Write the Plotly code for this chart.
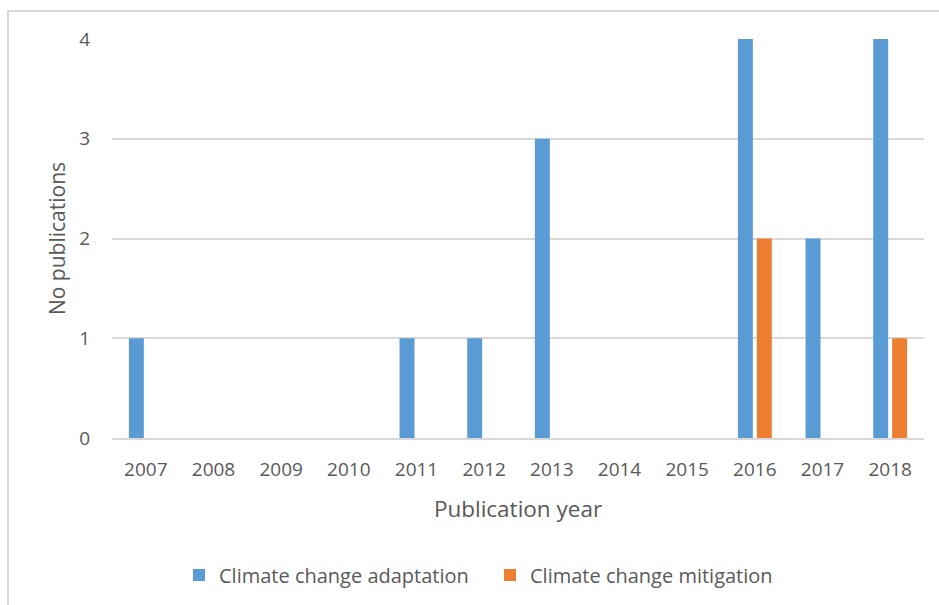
import plotly.graph_objects as go

# Publication counts per year
years = ["2007", "2008", "2009", "2010", "2011", "2012",
         "2013", "2014", "2015", "2016", "2017", "2018"]
adaptation = [1, 0, 0, 0, 1, 1, 3, 0, 0, 4, 2, 4]
mitigation = [0, 0, 0, 0, 0, 0, 0, 0, 0, 2, 0, 1]

text_color = "#595959"
grid_color = "#d9d9d9"
font_family = "Open Sans, Liberation Sans, sans-serif"

fig = go.Figure()
fig.add_trace(go.Bar(x=years, y=adaptation, name="Climate change adaptation",
                     marker=dict(color="#5B9BD5", line=dict(width=0))))
fig.add_trace(go.Bar(x=years, y=mitigation, name="Climate change mitigation",
                     marker=dict(color="#ED7D31", line=dict(width=0))))

fig.update_layout(
    width=939, height=605,
    margin=dict(l=112, r=15, t=39, b=166),
    paper_bgcolor="white", plot_bgcolor="white",
    barmode="group", bargap=0.44, bargroupgap=0.21,
    font=dict(family=font_family, size=19, color=text_color),
    showlegend=True,
    legend=dict(orientation="h", x=(179 - 112) / 812, xanchor="left",
                y=-0.34, yanchor="middle",
                font=dict(size=20, color=text_color), itemwidth=30,
                entrywidth=266, entrywidthmode="pixels",
                traceorder="normal"),
    xaxis=dict(
        type="category", showgrid=False, showline=True, linecolor=grid_color,
        linewidth=2, ticks="", ticklabelstandoff=13,
        tickfont=dict(size=19, color=text_color),
        title=dict(text="Publication year", font=dict(size=22.5, color=text_color),
                   standoff=20),
    ),
    yaxis=dict(
        range=[0, 4], dtick=1, showgrid=True, gridcolor=grid_color, gridwidth=2,
        zeroline=False, showline=False, ticks="", ticklabelstandoff=21,
        tickfont=dict(size=19, color=text_color),
        title=dict(text="No publications", font=dict(size=21, color=text_color),
                   standoff=7),
    ),
)

# Outer frame around the chart area
fig.add_shape(type="rect", xref="paper", yref="paper",
              x0=(8 - 112) / 812, x1=(960 - 112) / 812,
              y0=(439 - 640) / 400, y1=(439 - 11) / 400,
              line=dict(color=grid_color, width=2), fillcolor="rgba(0,0,0,0)",
              layer="below")

fig.write_html("out.html")
